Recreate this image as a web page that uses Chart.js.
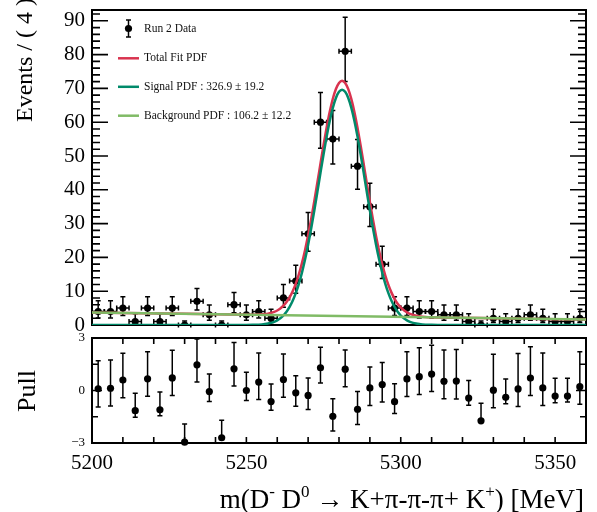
<!DOCTYPE html>
<html>
<head>
<meta charset="utf-8">
<script src="https://cdn.jsdelivr.net/npm/chart.js@4.4.1/dist/chart.umd.min.js"></script>
<style>
  html, body { margin: 0; padding: 0; background: #fff; }
  #wrap { position: relative; width: 597px; height: 512px; overflow: hidden; }
  #mainBox { position: absolute; left: 0; top: 0; width: 597px; height: 332px; }
  #pullBox { position: absolute; left: 0; top: 332px; width: 597px; height: 180px; }
</style>
</head>
<body>
<div id="wrap">
  <div id="mainBox"><canvas id="mainCanvas" width="597" height="332"></canvas></div>
  <div id="pullBox"><canvas id="pullCanvas" width="597" height="180"></canvas></div>
</div>
<script>
// ---- binned data: m(D- D0) candidates, 4 MeV bins ----
const binCenters = [5202,5206,5210,5214,5218,5222,5226,5230,5234,5238,5242,5246,5250,5254,5258,5262,5266,5270,5274,5278,
                    5282,5286,5290,5294,5298,5302,5306,5310,5314,5318,5322,5326,5330,5334,5338,5342,5346,5350,5354,5358];
const counts = [4,4,5,1,5,1,5,0,7,3,0,6,3,4,2,8,13,27,60,55,
                81,47,35,18,5,5,4,4,3,3,1,0,2,1,2,3,2,1,1,2];
const errLow = [1.91,1.91,2.16,0.83,2.16,0.83,2.16,0,2.58,1.63,0,2.38,1.63,1.91,1.29,2.77,3.57,5.18,7.73,7.40,
                8.98,6.84,5.89,4.21,2.16,2.16,1.91,1.91,1.63,1.63,0.83,0,1.29,0.83,1.29,1.63,1.29,0.83,0.83,1.29];
const errHigh = [3.16,3.16,3.38,2.30,3.38,2.30,3.38,1.15,3.77,2.92,1.15,3.58,2.92,3.16,2.64,3.95,4.71,6.27,8.79,8.45,
                 10.04,7.90,6.97,5.32,3.38,3.38,3.16,3.16,2.92,2.92,2.30,1.15,2.64,2.30,2.64,2.92,2.64,2.30,2.30,2.64];
const binHalfWidth = 2;

// ---- fitted curves ----
const fitX = [5200,5230,5245,5250,5252,5254,
  5255,5256,5257,5258,5259,5260,5261,5262,5263,5264,5265,5266,5267,5268,5269,5270,5271,5272,5273,5274,5275,5276,5277,5278,5279,5280,
  5281,
  5282,5283,5284,5285,5286,5287,5288,5289,5290,5291,5292,5293,5294,5295,5296,5297,5298,5299,5300,5301,5302,5303,5304,5305,5306,5307,
  5308,5310,5312,5317,5330,5360];
const signalPdf = [0,0,0,0.01,0.04,0.11,
  0.17,0.27,0.42,0.63,0.94,1.38,1.99,2.81,3.91,5.33,7.15,9.42,12.19,15.50,19.35,23.74,28.61,33.88,39.40,45.03,50.54,55.73,60.37,64.25,67.17,68.98,
  69.60,
  68.98,67.17,64.25,60.37,55.73,50.54,45.03,39.40,33.88,28.61,23.74,19.35,15.50,12.19,9.42,7.15,5.33,3.91,2.81,1.99,1.38,0.94,0.63,0.42,0.27,0.17,
  0.11,0.04,0.01,0,0,0];
const totalPdf = [3.70,3.31,3.11,3.05,3.06,3.10,
  3.15,3.24,3.37,3.57,3.87,4.29,4.89,5.70,6.78,8.19,10.00,12.25,15.01,18.31,22.14,26.52,31.38,36.64,42.14,47.76,53.26,58.43,63.06,66.93,69.83,71.63,
  72.24,
  71.60,69.78,66.85,62.95,58.30,53.10,47.57,41.93,36.40,31.12,26.23,21.83,17.97,14.64,11.86,9.58,7.74,6.31,5.20,4.36,3.74,3.29,2.96,2.74,2.58,2.46,
  2.39,2.30,2.24,2.16,1.99,1.60];
const bkgX = [5200,5360];
const bkgPdf = [3.70,1.60];

// ---- pulls ----
const pulls = [0.10,0.13,0.60,-1.15,0.67,-1.10,0.72,-2.95,1.47,-0.06,-2.70,1.24,0.00,0.48,-0.63,0.63,-0.13,-0.28,1.30,-1.47,
               1.22,-1.07,0.15,0.34,-0.64,0.66,0.79,0.94,0.53,0.54,-0.43,-1.73,0.02,-0.39,0.09,0.71,0.15,-0.32,-0.32,0.22];
const pullErrHigh = [1.60,1.62,1.53,1.00,1.55,1.02,1.58,1.04,1.47,1.00,1.00,1.50,1.04,1.66,1.00,1.45,0.98,1.00,1.17,1.00,
                     1.09,1.02,1.20,1.26,1.02,1.56,1.66,1.64,1.79,1.81,1.00,1.00,2.05,1.05,2.03,1.79,2.00,1.02,1.02,2.00];
const pullErrLow = [1.04,1.02,1.02,0.38,1.00,0.34,1.00,0.00,0.98,0.57,0.00,0.98,0.57,1.00,0.50,1.02,0.77,0.81,0.87,0.85,
                    1.00,0.87,1.00,1.00,0.68,1.00,1.02,1.00,1.00,1.02,0.41,0.00,1.00,0.36,1.00,1.00,1.00,0.38,0.34,1.00];

// ---- axis ranges and tick values ----
const massRange = [5200, 5360];
const massTicks = [5200, 5250, 5300, 5350];
const eventsRange = [0, 93.2];
const eventsTicks = [0, 10, 20, 30, 40, 50, 60, 70, 80, 90];
const pullRange = [-3, 3];
const pullTicks = [-3, 0, 3];
const pullMinorTicks = [-1.5, 1.5];

// ---- text ----
const legendLabels = ['Run 2 Data', 'Total Fit PDF', 'Signal PDF : 326.9 \u00b1 19.2', 'Background PDF : 106.2 \u00b1 12.2'];
const yTitleMain = 'Events / ( 4 )';
const yTitlePull = 'Pull';
const xTitleParts = [['m(D', 0], ['-', 1], [' D', 0], ['0', 1], [' \u2192 K+\u03c0-\u03c0-\u03c0+ K', 0], ['+', 1], [') [MeV]', 0]];

const SERIF = "'Liberation Serif', 'Times New Roman', serif";
const COL_TOTAL = '#d9334f';
const COL_SIGNAL = '#008a6a';
const COL_BKG = '#80bb66';

function zip(xs, ys) { return xs.map((x, i) => ({ x: x, y: ys[i] })); }

function drawVErr(ctx, px, yTop, yBot, cap) {
  ctx.beginPath();
  ctx.moveTo(px, yTop); ctx.lineTo(px, yBot);
  ctx.stroke();
  ctx.beginPath();
  ctx.moveTo(px - cap, yTop); ctx.lineTo(px + cap, yTop);
  ctx.moveTo(px - cap, yBot); ctx.lineTo(px + cap, yBot);
  ctx.stroke();
}

// frame, ticks, error bars, legend and titles of the mass spectrum
const mainDecor = {
  id: 'mainDecor',
  beforeDatasetsDraw(chart) {
    const ctx = chart.ctx, xs = chart.scales.x, ys = chart.scales.y;
    const { left, right, top, bottom } = chart.chartArea;
    ctx.save();
    ctx.strokeStyle = '#000';
    ctx.lineWidth = 1.6;
    // axis ticks, both sides
    for (let v = 0; v <= eventsRange[1]; v += 2) {
      const py = ys.getPixelForValue(v);
      const len = (v % 10 === 0) ? 16 : 8;
      ctx.beginPath();
      ctx.moveTo(left, py); ctx.lineTo(left + len, py);
      ctx.moveTo(right, py); ctx.lineTo(right - len, py);
      ctx.stroke();
    }
    // error bars
    ctx.lineWidth = 1.5;
    for (let i = 0; i < binCenters.length; i++) {
      const px = xs.getPixelForValue(binCenters[i]);
      const py = ys.getPixelForValue(counts[i]);
      const yTop = ys.getPixelForValue(counts[i] + errHigh[i]);
      const yBot = ys.getPixelForValue(counts[i] - errLow[i]);
      drawVErr(ctx, px, yTop, yBot, 2.5);
      const xl = xs.getPixelForValue(binCenters[i] - binHalfWidth);
      const xr = xs.getPixelForValue(binCenters[i] + binHalfWidth);
      ctx.beginPath();
      ctx.moveTo(xl, py); ctx.lineTo(xr, py);
      ctx.moveTo(xl, py - 2.5); ctx.lineTo(xl, py + 2.5);
      ctx.moveTo(xr, py - 2.5); ctx.lineTo(xr, py + 2.5);
      ctx.stroke();
    }
    // frame
    ctx.lineWidth = 2;
    ctx.strokeRect(left, top, right - left, bottom - top);
    ctx.restore();
  },
  afterDraw(chart) {
    const ctx = chart.ctx;
    ctx.save();
    // legend
    ctx.font = '11.5px ' + SERIF;
    ctx.fillStyle = '#111';
    ctx.textBaseline = 'middle';
    ctx.textAlign = 'left';
    const rows = [28.5, 58.3, 86.8, 115.7];
    const textX = 144, symL = 118, symR = 139;
    // data marker
    ctx.strokeStyle = '#000';
    ctx.lineWidth = 1.5;
    drawVErr(ctx, 128.5, rows[0] - 8.5, rows[0] + 8.5, 2.5);
    ctx.beginPath();
    ctx.arc(128.5, rows[0], 3.6, 0, Math.PI * 2);
    ctx.fillStyle = '#000';
    ctx.fill();
    const cols = [null, COL_TOTAL, COL_SIGNAL, COL_BKG];
    for (let r = 1; r < 4; r++) {
      ctx.strokeStyle = cols[r];
      ctx.lineWidth = 2.5;
      ctx.beginPath();
      ctx.moveTo(symL, rows[r]); ctx.lineTo(symR, rows[r]);
      ctx.stroke();
    }
    ctx.fillStyle = '#111';
    for (let r = 0; r < 4; r++) ctx.fillText(legendLabels[r], textX, rows[r]);
    // y title
    ctx.font = '24px ' + SERIF;
    ctx.fillStyle = '#000';
    ctx.textBaseline = 'alphabetic';
    ctx.translate(32, 122);
    ctx.rotate(-Math.PI / 2);
    ctx.fillText(yTitleMain, 0, 0);
    ctx.restore();
  }
};

// frame, ticks, error bars and titles of the pull panel
const pullDecor = {
  id: 'pullDecor',
  beforeDatasetsDraw(chart) {
    const ctx = chart.ctx, xs = chart.scales.x, ys = chart.scales.y;
    const { left, right, top, bottom } = chart.chartArea;
    ctx.save();
    ctx.strokeStyle = '#000';
    ctx.lineWidth = 1.6;
    for (let m = massRange[0] + 10; m < massRange[1]; m += 10) {
      const px = xs.getPixelForValue(m);
      ctx.beginPath();
      ctx.moveTo(px, bottom); ctx.lineTo(px, bottom - 6);
      ctx.moveTo(px, top); ctx.lineTo(px, top + 6);
      ctx.stroke();
    }
    const yt = [[0, 10]].concat(pullMinorTicks.map(v => [v, 6]));
    yt.forEach(([v, len]) => {
      const py = ys.getPixelForValue(v);
      ctx.beginPath();
      ctx.moveTo(left, py); ctx.lineTo(left + len, py);
      ctx.moveTo(right, py); ctx.lineTo(right - len, py);
      ctx.stroke();
    });
    ctx.lineWidth = 1.5;
    for (let i = 0; i < binCenters.length; i++) {
      const px = xs.getPixelForValue(binCenters[i]);
      const yTop = ys.getPixelForValue(Math.min(pulls[i] + pullErrHigh[i], pullRange[1]));
      const yBot = ys.getPixelForValue(Math.max(pulls[i] - pullErrLow[i], pullRange[0]));
      drawVErr(ctx, px, yTop, yBot, 2.5);
    }
    ctx.lineWidth = 2;
    ctx.strokeRect(left, top, right - left, bottom - top);
    ctx.restore();
  },
  afterDraw(chart) {
    const ctx = chart.ctx;
    ctx.save();
    ctx.fillStyle = '#000';
    // x title with superscripts
    const big = '27px ' + SERIF, small = '17px ' + SERIF;
    let total = 0;
    xTitleParts.forEach(([t, sup]) => { ctx.font = sup ? small : big; total += ctx.measureText(t).width; });
    let x = 584 - total;
    const base = 176;
    ctx.textBaseline = 'alphabetic';
    ctx.textAlign = 'left';
    xTitleParts.forEach(([t, sup]) => {
      ctx.font = sup ? small : big;
      ctx.fillText(t, x, sup ? base - 11 : base);
      x += ctx.measureText(t).width;
    });
    // y title
    ctx.font = '26px ' + SERIF;
    ctx.textAlign = 'center';
    ctx.translate(35, 59);
    ctx.rotate(-Math.PI / 2);
    ctx.fillText(yTitlePull, 0, 0);
    ctx.restore();
  }
};

const common = {
  responsive: false,
  animation: false,
  events: [],
  devicePixelRatio: 1,
  plugins: { legend: { display: false }, tooltip: { enabled: false } }
};

new Chart(document.getElementById('mainCanvas'), {
  type: 'scatter',
  data: {
    datasets: [
      { data: zip(bkgX, bkgPdf), showLine: true, borderColor: COL_BKG, borderWidth: 2.5, pointRadius: 0, order: 0 },
      { data: zip(fitX, signalPdf), showLine: true, borderColor: COL_SIGNAL, borderWidth: 2.5, pointRadius: 0,
        cubicInterpolationMode: 'monotone', order: 1 },
      { data: zip(fitX, totalPdf), showLine: true, borderColor: COL_TOTAL, borderWidth: 2.5, pointRadius: 0,
        cubicInterpolationMode: 'monotone', order: 2 },
      { data: zip(binCenters, counts), showLine: false, pointRadius: 3.6, pointBackgroundColor: '#000',
        pointBorderWidth: 0, order: 3 }
    ]
  },
  options: Object.assign({}, common, {
    layout: { padding: { left: 0, right: 11, top: 10, bottom: 7 } },
    scales: {
      x: { type: 'linear', min: massRange[0], max: massRange[1], display: false },
      y: {
        type: 'linear', min: eventsRange[0], max: eventsRange[1],
        grid: { display: false, drawTicks: false }, border: { display: false },
        ticks: { padding: 7, color: '#000', font: { family: SERIF, size: 21 }, callback: v => String(v) },
        afterBuildTicks(s) { s.ticks = eventsTicks.map(v => ({ value: v })); },
        afterFit(s) { s.width = 92; s.paddingTop = 0; s.paddingBottom = 0; }
      }
    }
  }),
  plugins: [mainDecor]
});

new Chart(document.getElementById('pullCanvas'), {
  type: 'scatter',
  data: {
    datasets: [
      { data: zip(binCenters, pulls), showLine: false, pointRadius: 3.6, pointBackgroundColor: '#000',
        pointBorderWidth: 0, clip: false }
    ]
  },
  options: Object.assign({}, common, {
    layout: { padding: { left: 0, right: 11, top: 6, bottom: 0 } },
    scales: {
      x: {
        type: 'linear', min: massRange[0], max: massRange[1],
        grid: { display: false, drawTicks: false }, border: { display: false },
        ticks: { padding: 8, color: '#000', maxRotation: 0, font: { family: SERIF, size: 21 }, callback: v => String(v) },
        afterBuildTicks(s) { s.ticks = massTicks.map(v => ({ value: v })); },
        afterFit(s) { s.height = 69; s.paddingLeft = 0; s.paddingRight = 0; }
      },
      y: {
        type: 'linear', min: pullRange[0], max: pullRange[1],
        grid: { display: false, drawTicks: false }, border: { display: false },
        ticks: { padding: 7, color: '#000', font: { family: SERIF, size: 13 },
                 callback: v => (v < 0 ? '\u2212' + Math.abs(v) : String(v)) },
        afterBuildTicks(s) { s.ticks = pullTicks.map(v => ({ value: v })); },
        afterFit(s) { s.width = 92; s.paddingTop = 0; s.paddingBottom = 0; }
      }
    }
  }),
  plugins: [pullDecor]
});
</script>
</body>
</html>
